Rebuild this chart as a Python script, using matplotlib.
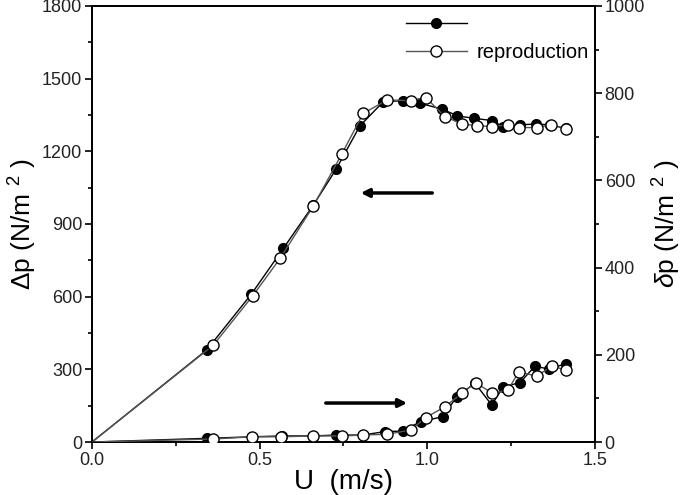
import matplotlib
matplotlib.use('Agg')
from matplotlib import pyplot as plt
from matplotlib.ticker import MultipleLocator

plt.rcParams['font.family'] = ['Liberation Sans', 'DejaVu Sans']
plt.rcParams['mathtext.fontset'] = 'custom'
plt.rcParams['mathtext.rm'] = 'Liberation Sans'
plt.rcParams['mathtext.it'] = 'Liberation Sans:italic'

# large pressure drop (left axis), measured (filled) and reproduction (open)
u_dp_meas = [0.0, 0.342, 0.475, 0.571, 0.660, 0.728, 0.799, 0.869, 0.927, 0.978,
             1.045, 1.090, 1.140, 1.192, 1.227, 1.276, 1.323, 1.366, 1.413]
dp_meas = [0, 380, 610, 800, 978, 1126, 1305, 1405, 1409, 1398,
           1374, 1346, 1336, 1327, 1302, 1309, 1313, 1309, 1295]
u_dp_rep = [0.0, 0.362, 0.479, 0.561, 0.660, 0.745, 0.809, 0.881, 0.951, 0.995,
            1.053, 1.103, 1.147, 1.194, 1.240, 1.273, 1.326, 1.369, 1.414]
dp_rep = [0, 400, 603, 758, 974, 1189, 1357, 1412, 1409, 1422,
          1343, 1313, 1306, 1302, 1309, 1298, 1298, 1309, 1292]

# pressure fluctuation (right axis)
u_sp_meas = [0.0, 0.342, 0.478, 0.567, 0.660, 0.727, 0.807, 0.874, 0.927, 0.980,
             1.046, 1.088, 1.142, 1.192, 1.227, 1.276, 1.321, 1.364, 1.413]
sp_meas = [0, 8.5, 12, 14, 14, 16, 16, 24, 25, 47,
           58, 104, 135, 85, 127, 136, 174, 167, 180]
u_sp_rep = [0.0, 0.362, 0.478, 0.564, 0.660, 0.745, 0.809, 0.881, 0.951, 0.995,
            1.053, 1.103, 1.144, 1.194, 1.240, 1.273, 1.326, 1.371, 1.415]
sp_rep = [0, 7, 12, 12, 14, 14, 16, 18, 27.5, 56,
          81, 112, 136, 112, 119, 161, 151, 174, 165]

fig = plt.figure(figsize=(6.82, 4.95), dpi=100)
ax = fig.add_axes([0.1349, 0.107, 0.7375, 0.881])
ax2 = ax.twinx()

ms = 7
h1, = ax.plot(u_dp_meas, dp_meas, '-', color='black', lw=1.0, marker='o', ms=ms,
              mfc='black', mec='black', markevery=slice(1, None), zorder=3)
h2, = ax.plot(u_dp_rep, dp_rep, '-', color='#555555', lw=1.0, marker='o', ms=ms + 1,
              mfc='white', mec='black', mew=1.0, markevery=slice(1, None), zorder=4)
ax2.plot(u_sp_meas, sp_meas, '-', color='black', lw=1.0, marker='o', ms=ms,
         mfc='black', mec='black', markevery=slice(1, None), zorder=3)
ax2.plot(u_sp_rep, sp_rep, '-', color='#555555', lw=1.0, marker='o', ms=ms + 1,
         mfc='white', mec='black', mew=1.0, markevery=slice(1, None), zorder=4)

ax.set_xlim(0, 1.5)
ax.set_ylim(0, 1800)
ax2.set_ylim(0, 1000)

ax.xaxis.set_major_locator(MultipleLocator(0.5))
ax.xaxis.set_minor_locator(MultipleLocator(0.25))
ax.yaxis.set_major_locator(MultipleLocator(300))
ax.yaxis.set_minor_locator(MultipleLocator(150))
ax2.yaxis.set_major_locator(MultipleLocator(200))
ax2.yaxis.set_minor_locator(MultipleLocator(100))
ax.xaxis.set_major_formatter(matplotlib.ticker.FormatStrFormatter('%.1f'))

for a in (ax, ax2):
    a.tick_params(which='major', direction='out', length=5, width=1.2,
                  labelsize=13, labelcolor='#222222', pad=2)
    a.tick_params(which='minor', direction='out', length=3, width=1.2)
    for s in a.spines.values():
        s.set_linewidth(1.3)
ax.tick_params(axis='x', which='both', top=False)

ax.set_xlabel('U  (m/s)', fontsize=20, labelpad=0)
ax.set_ylabel(r'$\Delta$p (N/m $^{2}$ )', fontsize=19, labelpad=2)
ax2.set_ylabel(r'$\delta$p (N/m $^{2}$ )', fontsize=19, labelpad=4)

ax.annotate('', xy=(0.793, 1028), xytext=(1.023, 1028),
            arrowprops=dict(arrowstyle='-|>', color='black', lw=2.5,
                            mutation_scale=12))
ax.annotate('', xy=(0.948, 161), xytext=(0.689, 161),
            arrowprops=dict(arrowstyle='-|>', color='black', lw=2.5,
                            mutation_scale=12))

ax.legend([h1, h2], ['', 'reproduction'], loc='upper right', frameon=False,
          fontsize=14.5, bbox_to_anchor=(1.024, 1.02), handlelength=3,
          handletextpad=0.5, labelspacing=0.45)

plt.savefig('out.png', dpi=100)
